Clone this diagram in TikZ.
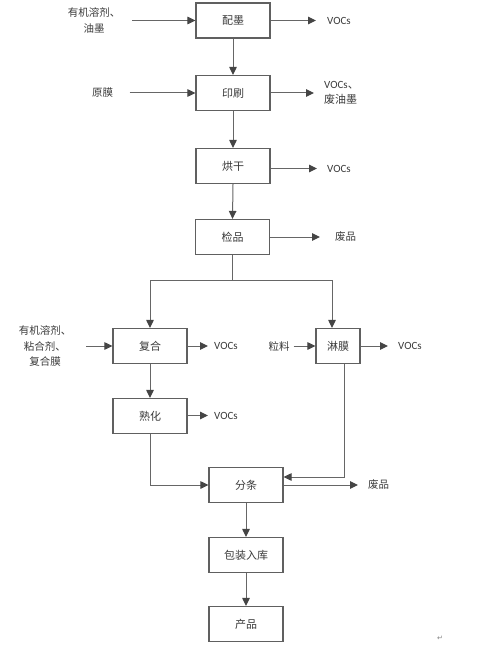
\documentclass[tikz,border=0pt]{standalone}
\usepackage{fontspec}
\setmainfont{Carlito}
\newfontfamily\cjk{Noto Sans CJK SC}
\newfontfamily\djv{DejaVu Sans}
\usetikzlibrary{arrows.meta}
\definecolor{boxgray}{HTML}{606060}
\definecolor{linegray}{HTML}{666666}
\definecolor{tipgray}{HTML}{454545}
\definecolor{txtgray}{HTML}{3A3A3A}
\begin{document}
\begin{tikzpicture}[x=1pt,y=-1pt,
  box/.style={draw=boxgray, line width=1.1pt, minimum width=74pt, minimum height=35pt, inner sep=0pt,
    font=\cjk\fontsize{11}{12}\selectfont, text=txtgray},
  flow/.style={draw=linegray, line width=1pt, -{Triangle[length=8pt,width=7.5pt,color=tipgray]}},
  plain/.style={draw=linegray, line width=1pt},
  lbl/.style={font=\cjk\fontsize{10.5}{15.5}\selectfont, text=txtgray, inner sep=0pt, align=center},
  voc/.style={font=\fontsize{11}{13}\selectfont, text=txtgray, inner sep=0pt, anchor=west}]
\useasboundingbox (0,0) rectangle (495,647);

% process boxes
\node[box] (mo) at (233,20.5) {配墨};
\node[box] (ys) at (233,93) {印刷};
\node[box] (hg) at (233,166) {烘干};
\node[box] (jp) at (232.5,237) {检品};
\node[box] (fh) at (150,346) {复合};
\node[box, minimum width=44pt] (lm) at (338,346) {淋膜};
\node[box] (sh) at (150,416) {熟化};
\node[box] (ft) at (246,485) {分条};
\node[box] (bz) at (246,555) {包装入库};
\node[box] (cp) at (246,624) {产品};

% input labels
\node[lbl] (in1) at (94,20.5) {有机溶剂、\\油墨};
\node[lbl] (in2) at (102.5,93) {原膜};
\node[lbl] (in3) at (45,346) {有机溶剂、\\粘合剂、\\复合膜};
\node[lbl] (in4) at (279,346) {粒料};

% output labels
\node[voc] (o1) at (327,20.5) {VOCs};
\node[voc, align=left] (o2) at (324,93) {VOCs{\cjk 、}\\[2pt]{\cjk 废油墨}};
\node[voc] (o3) at (327,168.5) {VOCs};
\node[lbl, anchor=west] (o4) at (335,237) {废品};
\node[voc] (o5) at (214,346) {VOCs};
\node[voc] (o6) at (398,346) {VOCs};
\node[voc] (o7) at (214,415.5) {VOCs};
\node[lbl, anchor=west] (o8) at (368,485) {废品};

% main flow
\draw[flow] (mo) -- (ys);
\draw[flow] (ys) -- (hg);
\draw[flow] (hg.south) -- (jp.north);
\coordinate (split) at (232.5,280);
\draw[plain] (jp.south) -- (split);
\draw[flow] (split) -| (fh.north);
\draw[flow] (split) -| ([xshift=-6pt]lm.north);
\draw[flow] (fh) -- (sh);
\draw[flow] (sh.south) |- (ft.west);
\draw[flow] ([xshift=6pt]lm.south) |- ([yshift=8pt]ft.east);
\draw[flow] (ft) -- (bz);
\draw[flow] (bz) -- (cp);

% inputs
\draw[flow, shorten <=12pt] (in1.east) -- (mo.west);
\draw[flow, shorten <=16.5pt] (in2.east) -- (ys.west);
\draw[flow, shorten <=15pt] (in3.east) -- (fh.west);
\draw[flow, shorten <=4pt] (in4.east) -- (lm.west);

% outputs
\draw[flow, shorten >=11pt] (mo.east) -- (o1.west);
\draw[flow, shorten >=10pt] (ys.east) -- (o2.west);
\draw[flow, shorten >=10pt] (hg.east |- o3.west) -- (o3.west);
\draw[flow, shorten >=15pt] (jp.east) -- (o4.west);
\draw[flow, shorten >=6pt] (fh.east) -- (o5.west);
\draw[flow, shorten >=10pt] (lm.east) -- (o6.west);
\draw[flow, shorten >=6pt] (sh.east |- o7.west) -- (o7.west);
\draw[flow, shorten >=10pt] (ft.east) -- (o8.west);

% paragraph mark
\node[font=\djv\fontsize{7}{8}\selectfont, text=gray, inner sep=0pt] (pm) at (440,638) {↵};
\end{tikzpicture}
\end{document}
